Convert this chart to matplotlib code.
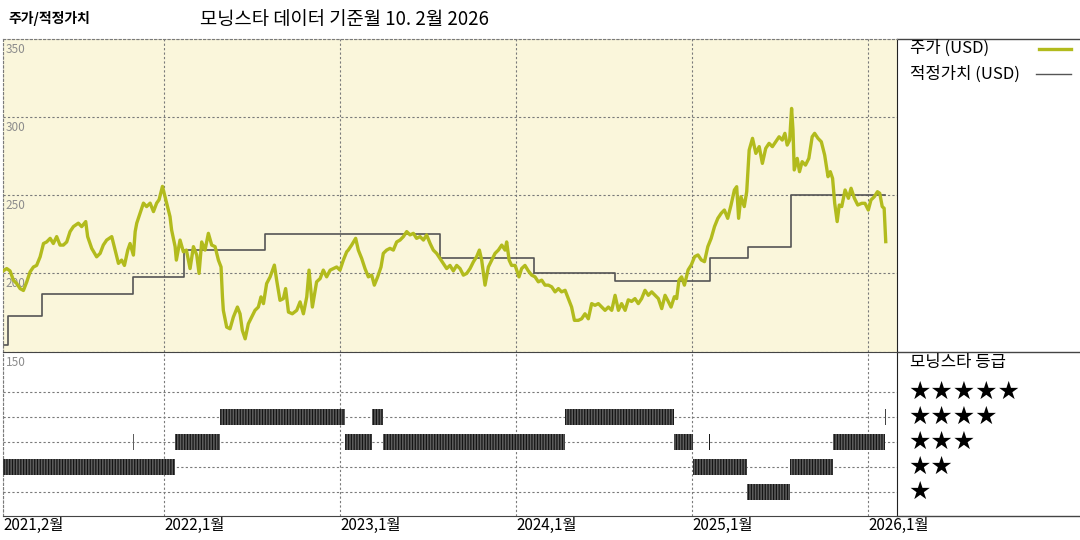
import matplotlib
matplotlib.use('Agg')
import matplotlib.pyplot as plt
from matplotlib.lines import Line2D

plt.rcParams['font.family'] = ['Noto Sans CJK KR', 'DejaVu Sans']
plt.rcParams['hatch.linewidth'] = 0.9

# price (decimal year, USD)
price_t = [2021.076, 2021.104, 2021.123, 2021.142, 2021.161, 2021.180, 2021.199, 2021.218, 2021.237, 2021.256,
           2021.274, 2021.294, 2021.313, 2021.331, 2021.351, 2021.369, 2021.388, 2021.407, 2021.426, 2021.445,
           2021.464, 2021.483, 2021.511, 2021.530, 2021.553, 2021.564, 2021.587, 2021.615, 2021.635, 2021.653,
           2021.672, 2021.701, 2021.720, 2021.739, 2021.757, 2021.773, 2021.792, 2021.805, 2021.824, 2021.834,
           2021.843, 2021.862, 2021.881, 2021.899, 2021.919, 2021.938, 2021.956, 2021.970, 2021.989, 2022.013,
           2022.032, 2022.041, 2022.061, 2022.068, 2022.089, 2022.108, 2022.125, 2022.146, 2022.165, 2022.184,
           2022.197, 2022.212, 2022.231, 2022.250, 2022.269, 2022.288, 2022.307, 2022.322, 2022.330, 2022.335,
           2022.354, 2022.373, 2022.392, 2022.415, 2022.430, 2022.443, 2022.459, 2022.477, 2022.496, 2022.515,
           2022.534, 2022.549, 2022.563, 2022.581, 2022.601, 2022.625, 2022.638, 2022.657, 2022.676, 2022.689,
           2022.705, 2022.727, 2022.752, 2022.771, 2022.790, 2022.809, 2022.822, 2022.841, 2022.865, 2022.885,
           2022.903, 2022.922, 2022.942, 2022.960, 2022.979, 2022.998, 2023.017, 2023.036, 2023.045, 2023.064,
           2023.087, 2023.102, 2023.121, 2023.140, 2023.159, 2023.178, 2023.193, 2023.212, 2023.231, 2023.244,
           2023.263, 2023.282, 2023.301, 2023.320, 2023.339, 2023.358, 2023.377, 2023.396, 2023.415, 2023.433,
           2023.453, 2023.472, 2023.490, 2023.510, 2023.528, 2023.547, 2023.566, 2023.585, 2023.604, 2023.623,
           2023.642, 2023.661, 2023.680, 2023.699, 2023.718, 2023.737, 2023.756, 2023.774, 2023.790, 2023.803,
           2023.822, 2023.841, 2023.860, 2023.879, 2023.898, 2023.917, 2023.936, 2023.945, 2023.959, 2023.973,
           2023.993, 2024.002, 2024.015, 2024.030, 2024.049, 2024.068, 2024.087, 2024.106, 2024.125, 2024.144,
           2024.163, 2024.182, 2024.201, 2024.220, 2024.239, 2024.257, 2024.277, 2024.295, 2024.314, 2024.330,
           2024.352, 2024.371, 2024.390, 2024.409, 2024.428, 2024.447, 2024.466, 2024.485, 2024.504, 2024.523,
           2024.542, 2024.561, 2024.580, 2024.598, 2024.618, 2024.636, 2024.655, 2024.674, 2024.693, 2024.712,
           2024.731, 2024.750, 2024.769, 2024.788, 2024.807, 2024.826, 2024.845, 2024.860, 2024.879, 2024.898,
           2024.911, 2024.924, 2024.939, 2024.955, 2024.976, 2024.994, 2025.013, 2025.032, 2025.051, 2025.069,
           2025.088, 2025.107, 2025.126, 2025.145, 2025.164, 2025.182, 2025.201, 2025.220, 2025.239, 2025.252,
           2025.263, 2025.276, 2025.295, 2025.309, 2025.323, 2025.342, 2025.361, 2025.380, 2025.398, 2025.417,
           2025.436, 2025.455, 2025.474, 2025.493, 2025.511, 2025.526, 2025.539, 2025.553, 2025.564, 2025.572,
           2025.579, 2025.596, 2025.609, 2025.624, 2025.643, 2025.662, 2025.681, 2025.695, 2025.714, 2025.733,
           2025.752, 2025.771, 2025.784, 2025.797, 2025.809, 2025.823, 2025.835, 2025.849, 2025.868, 2025.887,
           2025.902, 2025.921, 2025.940, 2025.963, 2025.981, 2026.000, 2026.015, 2026.034, 2026.052, 2026.065,
           2026.079, 2026.090, 2026.099]
price_v = [200.9, 203.0, 201.5, 195.6, 193.4, 190.2, 189.0, 194.5, 200.9, 204.0,
           205.0, 210.5, 219.0, 220.0, 222.3, 219.0, 223.4, 218.0, 218.0, 220.0,
           226.6, 229.8, 232.0, 229.8, 233.0, 223.4, 215.9, 210.5, 212.7, 218.0,
           221.2, 223.4, 214.8, 206.3, 208.4, 205.0, 214.8, 219.0, 211.6, 226.6,
           232.0, 238.4, 244.8, 242.6, 244.8, 239.4, 244.8, 247.0, 255.5, 244.8,
           236.2, 227.7, 217.0, 208.4, 221.2, 213.7, 214.8, 203.0, 217.0, 211.6,
           199.9, 220.0, 214.8, 225.5, 218.0, 217.0, 208.4, 204.0, 184.9, 176.3,
           165.6, 164.5, 172.0, 178.4, 174.1, 163.5, 158.1, 167.7, 172.0, 176.3,
           178.4, 184.9, 180.6, 193.4, 197.7, 205.2, 195.6, 182.7, 183.8, 190.2,
           175.2, 174.1, 176.3, 181.7, 174.1, 184.9, 202.0, 178.4, 194.5, 196.6,
           202.0, 197.7, 202.0, 203.0, 204.0, 202.0, 208.4, 213.7, 214.8, 218.0,
           222.3, 214.8, 209.5, 203.0, 197.7, 198.8, 192.4, 197.7, 204.0, 212.7,
           214.8, 215.9, 214.8, 220.0, 221.2, 223.4, 226.6, 224.5, 225.5, 222.3,
           223.4, 221.2, 224.5, 219.0, 214.8, 212.7, 209.5, 206.3, 203.0, 205.0,
           201.5, 205.0, 203.0, 198.8, 199.9, 203.0, 207.3, 210.5, 214.8, 208.4,
           192.4, 204.0, 208.4, 212.7, 214.8, 218.0, 214.8, 220.0, 208.4, 205.0,
           205.0, 202.0, 197.7, 203.0, 205.0, 201.5, 198.8, 197.7, 194.5, 195.6,
           192.4, 192.4, 191.3, 188.1, 190.2, 188.1, 189.1, 183.8, 178.4, 169.9,
           169.9, 170.9, 174.1, 170.9, 180.6, 179.5, 180.6, 178.4, 176.3, 178.4,
           176.3, 185.9, 176.3, 180.6, 176.3, 183.0, 182.0, 183.8, 180.6, 183.8,
           189.1, 185.9, 188.1, 185.9, 183.8, 177.4, 185.9, 182.7, 178.4, 185.0,
           183.8, 195.6, 197.7, 192.4, 202.1, 205.3, 210.6, 211.7, 208.5, 207.4,
           217.0, 222.3, 229.8, 235.1, 238.3, 240.4, 235.1, 243.6, 253.2, 255.3,
           235.1, 248.9, 242.6, 252.1, 278.7, 286.2, 276.6, 280.9, 270.2, 279.8,
           283.0, 280.9, 284.0, 287.2, 285.1, 289.4, 281.9, 285.1, 305.3, 291.5,
           266.0, 273.4, 264.9, 271.3, 269.1, 273.4, 287.2, 289.4, 286.2, 284.0,
           275.5, 261.7, 264.9, 260.6, 244.7, 233.0, 243.6, 242.6, 253.2, 247.9,
           254.3, 247.9, 243.6, 244.7, 244.7, 240.4, 246.8, 248.9, 252.1, 251.1,
           242.6, 241.5, 220.2]

# fair value steps
fv_t = [2021.085, 2021.114, 2021.303, 2021.824, 2022.114, 2022.572, 2023.566,
        2024.102, 2024.561, 2025.102, 2025.314, 2025.558, 2026.097]
fv_v = [153.9, 172.7, 186.6, 197.7, 214.8, 224.9, 209.9,
        200.3, 194.9, 209.6, 217.0, 249.8, 249.8]

# morningstar rating periods
rating_start = [2021.076, 2021.822, 2022.063, 2022.318, 2023.028, 2023.182, 2023.244, 2024.278,
                2024.898, 2025.006, 2025.097, 2025.313, 2025.557, 2025.801, 2026.094]
rating_end = [2022.063, 2021.828, 2022.318, 2023.028, 2023.182, 2023.244, 2024.278, 2024.898,
              2025.006, 2025.313, 2025.103, 2025.557, 2025.801, 2026.094, 2026.100]
rating_stars = [2, 3, 3, 4, 3, 4, 3, 4, 3, 2, 3, 1, 2, 3, 4]

price_ticks = [150, 200, 250, 300, 350]
x_ticks = [2021.083, 2022, 2023, 2024, 2025, 2026]
x_labels = ['2021,2월', '2022,1월', '2023,1월', '2024,1월', '2025,1월', '2026,1월']
star_levels = [1, 2, 3, 4, 5]

OLIVE = '#B2BB1D'
GRID = '#7a7a7a'
W, H = 1080, 540

fig = plt.figure(figsize=(10.8, 5.4), dpi=100)
fig.patch.set_facecolor('white')

ax = fig.add_axes([3 / W, 1 - 351.5 / H, 894 / W, 313 / H])
ax2 = fig.add_axes([3 / W, 1 - 516 / H, 894 / W, 164.5 / H], sharex=ax)
ax.set_zorder(3)

# price panel
ax.set_facecolor('#FAF6DB')
ax.plot(price_t, price_v, color=OLIVE, lw=2.4, zorder=3)
ax.plot(fv_t, fv_v, color='#555555', lw=1.2, drawstyle='steps-post', zorder=2)
ax.set_xlim(2021.083, 2026.163)
ax.set_ylim(150, 350)
ax.set_yticks(price_ticks)
ax.set_xticks(x_ticks)
ax.grid(True, linestyle=(0, (2, 2)), color=GRID, lw=0.8)
ax.tick_params(length=0, labelleft=False, labelbottom=False)
for v in price_ticks:
    ax.annotate(str(v), xy=(0, v), xycoords=('axes fraction', 'data'), xytext=(2, -3),
                textcoords='offset points', ha='left', va='top', fontsize=8.5,
                color='#8c8c8c', annotation_clip=False, zorder=1)
for s in ['left', 'top']:
    ax.spines[s].set_linestyle((0, (2, 2)))
    ax.spines[s].set_color(GRID)
    ax.spines[s].set_linewidth(0.8)
ax.spines['bottom'].set_color('#444444')
ax.spines['right'].set_color('#222222')

# rating panel
ax2.set_facecolor('white')
for k in star_levels:
    segs = [(s, e - s) for s, e, r in zip(rating_start, rating_end, rating_stars) if r == k]
    if segs:
        ax2.broken_barh(segs, (k - 0.33, 0.66), facecolors='#5e5e5e', edgecolor='#151515',
                        hatch='||||||', linewidth=0, zorder=3)
ax2.set_ylim(0.04, 6.62)
ax2.set_yticks(star_levels)
ax2.grid(True, linestyle=(0, (2, 2)), color=GRID, lw=0.8)
ax2.set_xticks(x_ticks)
ax2.set_xticklabels(x_labels, ha='left', fontsize=11)
ax2.tick_params(length=0, labelleft=False, pad=1)
ax2.spines['left'].set_linestyle((0, (2, 2)))
ax2.spines['left'].set_color(GRID)
ax2.spines['top'].set_visible(False)
ax2.spines['bottom'].set_color('#444444')
ax2.spines['right'].set_color('#222222')

# right-hand frame lines
for y in [38.5, 351.5, 516]:
    fig.add_artist(Line2D([897 / W, 1], [1 - y / H, 1 - y / H], color='#444444', lw=1))

# titles
fig.text(8 / W, 1 - 18 / H, '주가/적정가치', fontsize=10, fontweight='bold', va='center', ha='left')
fig.text(200 / W, 1 - 20 / H, '모닝스타 데이터 기준월 10. 2월 2026', fontsize=13.5, va='center', ha='left')

# legend
fig.text(910 / W, 1 - 48 / H, '주가 (USD)', fontsize=12, va='center', ha='left')
fig.add_artist(Line2D([1039 / W, 1071 / W], [1 - 49 / H, 1 - 49 / H], color=OLIVE, lw=2.4))
fig.text(910 / W, 1 - 74 / H, '적정가치 (USD)', fontsize=12, va='center', ha='left')
fig.add_artist(Line2D([1036 / W, 1071 / W], [1 - 74 / H, 1 - 74 / H], color='#555555', lw=1.0))

fig.text(910 / W, 1 - 362 / H, '모닝스타 등급', fontsize=12, va='center', ha='left')
for k in star_levels:
    fig.text(908 / W, 1 - (492 - (k - 1) * 25) / H, '★' * k, fontsize=18, va='center', ha='left',
             family=['DejaVu Sans'])

fig.savefig('out.png', dpi=100)
